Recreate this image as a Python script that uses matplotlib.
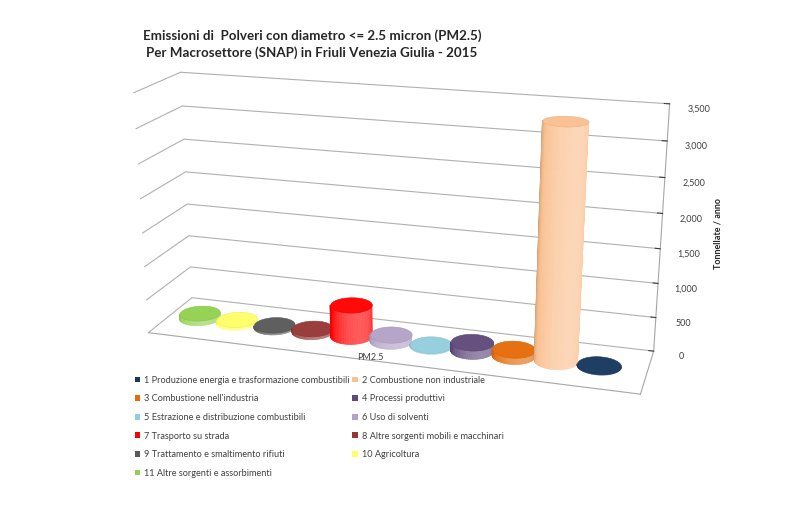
import numpy as np
import matplotlib
matplotlib.use("Agg")
import matplotlib.pyplot as plt
from matplotlib.colors import to_rgb
from matplotlib.patches import Patch
from matplotlib.ticker import FuncFormatter
from mpl_toolkits.mplot3d.art3d import Poly3DCollection

plt.rcParams['font.family'] = ['Lato', 'DejaVu Sans']

# dati (tonnellate/anno, PM2.5, FVG 2015)
settori = ["1 Produzione energia e trasformazione combustibili",
           "2 Combustione non industriale",
           "3 Combustione nell'industria",
           "4 Processi produttivi",
           "5 Estrazione e distribuzione combustibili",
           "6 Uso di solventi",
           "7 Trasporto su strada",
           "8 Altre sorgenti mobili e macchinari",
           "9 Trattamento e smaltimento rifiuti",
           "10 Agricoltura",
           "11 Altre sorgenti e assorbimenti"]
pm25 = [15, 3350, 100, 130, 20, 100, 480, 50, 35, 50, 80]
colori = ["#17375E", "#FAC090", "#E46C0A", "#604A7B", "#93CDDD", "#B3A2C7",
          "#FF0000", "#953735", "#595959", "#FFFF66", "#92D050"]
zticks = [0, 500, 1000, 1500, 2000, 2500, 3000, 3500]

AZIM = -73
ELEV = 18
ASPETTO = (5.8, 1.2, 2.9)
XLIM = (-0.8, 11.1)
YLIM = (0, (XLIM[1] - XLIM[0]) * ASPETTO[1] / ASPETTO[0])
RAGGIO = 0.5
luce = np.deg2rad(AZIM + 25)


def shade(base, s):
    # s in [-1, 1]: >0 schiarisce verso il bianco, <0 scurisce
    if s >= 0:
        return base + (1 - base) * 0.35 * s
    return base * (1 + 0.35 * s)


def cilindro(ax, xc, yc, r, h, col, occhio, n=72):
    base = np.array(to_rgb(col))
    th = np.linspace(0, 2 * np.pi, n + 1)
    quads, cols = [], []
    for k in range(n):
        t0, t1 = th[k], th[k + 1]
        tm = 0.5 * (t0 + t1)
        nx, ny = np.cos(tm), np.sin(tm)
        # solo le facce rivolte verso l'osservatore
        if nx * (occhio[0] - xc - r * nx) + ny * (occhio[1] - yc - r * ny) <= 0:
            continue
        p0 = (xc + r * np.cos(t0), yc + r * np.sin(t0))
        p1 = (xc + r * np.cos(t1), yc + r * np.sin(t1))
        quads.append([(p0[0], p0[1], 0), (p1[0], p1[1], 0),
                      (p1[0], p1[1], h), (p0[0], p0[1], h)])
        cols.append(shade(base, np.cos(tm - luce)))
    side = Poly3DCollection(quads, facecolors=cols, edgecolors=cols, linewidths=0.5)
    side.set_clip_on(False)
    ax.add_collection3d(side)
    top = [(xc + r * np.cos(t), yc + r * np.sin(t), h) for t in th[:-1]]
    cap = Poly3DCollection([top], facecolors=[shade(base, 0.1)],
                           edgecolors=[shade(base, -0.2)], linewidths=0.4)
    cap.set_clip_on(False)
    ax.add_collection3d(cap)


fig = plt.figure(figsize=(8, 5.19), dpi=100)
ax = fig.add_axes([0.1, 0.22, 0.78, 0.68], projection='3d', computed_zorder=False)
ax.set_proj_type('persp', focal_length=0.7)
ax.view_init(elev=ELEV, azim=AZIM)
ax.set_box_aspect(ASPETTO, zoom=1.6)
ax.set_xlim(*XLIM)
ax.set_ylim(*YLIM)
ax.set_zlim(0, 3500)

ax.get_proj()
try:
    occhio = ax._get_camera_loc()
except Exception:
    occhio = (np.mean(XLIM) + 100 * np.cos(np.deg2rad(AZIM)),
              np.mean(YLIM) + 100 * np.sin(np.deg2rad(AZIM)), 0)

# dal piu' lontano (11) al piu' vicino (1)
for i in range(len(pm25) - 1, -1, -1):
    cilindro(ax, 10 - i, YLIM[1] / 2, RAGGIO, pm25[i], colori[i], occhio)

ax.set_xticks([])
ax.set_yticks([])
ax.set_zticks(zticks)
ax.zaxis.set_major_formatter(FuncFormatter(lambda v, p: f"{int(v):,}"))
ax.tick_params(axis='z', labelsize=6.5, colors='#404040', pad=-1)
ax.zaxis._axinfo['tick'].update(inward_factor=0.0, outward_factor=0.12)

for a in (ax.xaxis, ax.yaxis, ax.zaxis):
    a.set_pane_color((1, 1, 1, 0))
    a.pane.set_edgecolor('none')
    a.line.set_color('#A6A6A6')
    a.line.set_linewidth(0.8)
ax.xaxis._axinfo['grid'].update(color=(1, 1, 1, 0))
ax.yaxis._axinfo['grid'].update(color=(1, 1, 1, 0))
ax.zaxis._axinfo['grid'].update(color='#B0B0B0', linewidth=0.8)

fig.text(0.39, 0.915, "Emissioni di  Polveri con diametro <= 2.5 micron (PM2.5)\n"
         "Per Macrosettore (SNAP) in Friuli Venezia Giulia - 2015",
         ha='center', va='center', fontsize=9.6, fontweight='bold',
         color='#262626', linespacing=1.35)
fig.text(0.897, 0.55, "Tonnellate / anno", rotation=90, ha='center', va='center',
         fontsize=6.5, fontweight='bold', color='#262626')
fig.text(0.463, 0.312, "PM2.5", ha='center', va='center', fontsize=6.5, color='#404040')

ordine = [0, 2, 4, 6, 8, 10, 1, 3, 5, 7, 9]
handles = [Patch(facecolor=colori[k], edgecolor='none') for k in ordine]
labels = [settori[k] for k in ordine]
fig.legend(handles, labels, loc='upper left', bbox_to_anchor=(0.163, 0.285),
           ncol=2, frameon=False, fontsize=6.6, handlelength=0.6, handleheight=0.6,
           handletextpad=0.4, columnspacing=0.3, labelspacing=1.05, borderpad=0,
           labelcolor='#404040')

fig.savefig("out.png", dpi=100)
